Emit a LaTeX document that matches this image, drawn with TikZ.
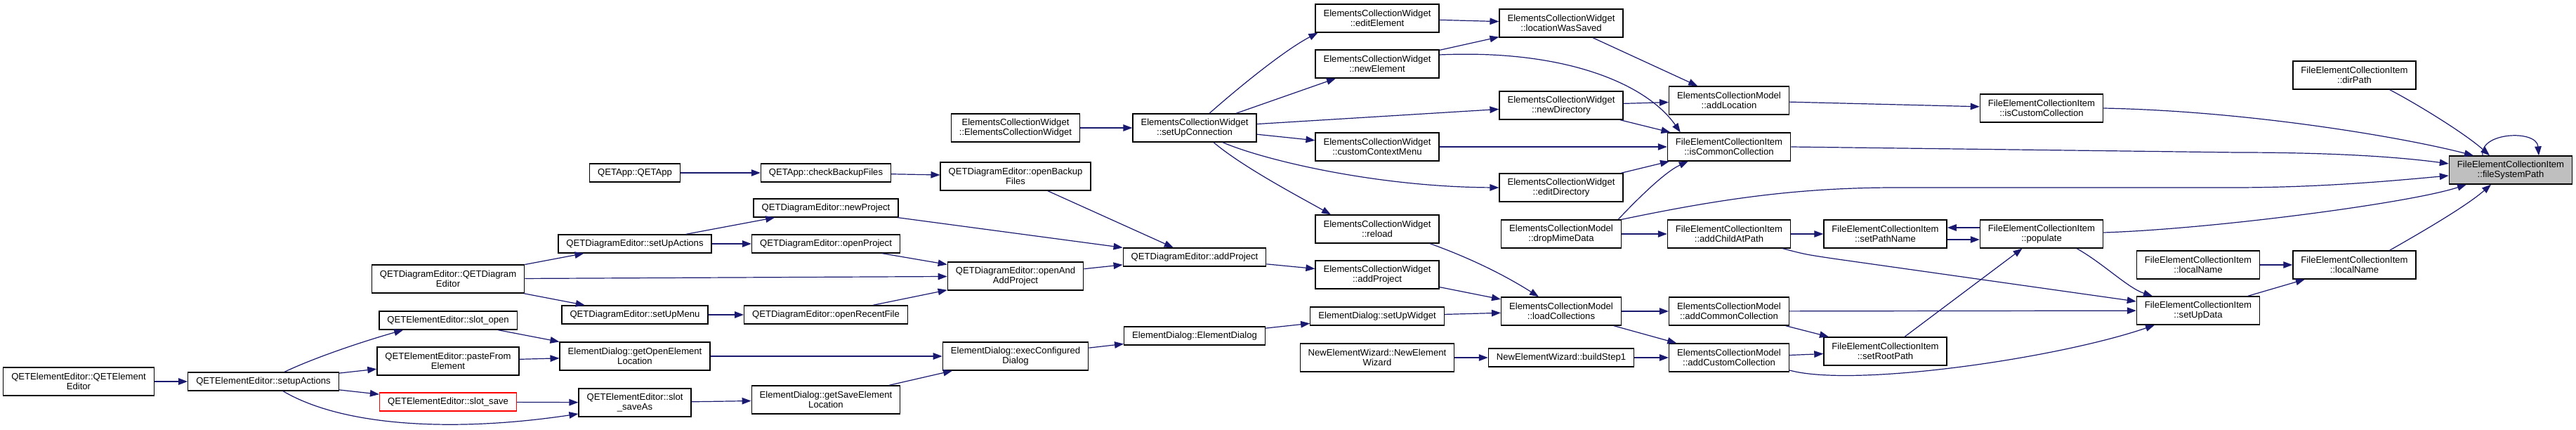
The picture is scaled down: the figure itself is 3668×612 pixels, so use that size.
\documentclass[tikz,border=0pt]{standalone}
\usepackage{fontspec}
\setmainfont{Liberation Sans}
\usepackage{tikz}
\usetikzlibrary{arrows.meta}
\definecolor{EdgeBlue}{HTML}{191970}
\definecolor{FocusGray}{HTML}{BFBFBF}
\definecolor{CutRed}{HTML}{FF0000}

\begin{document}
\begin{tikzpicture}[x=1pt,y=-1pt,
  fn/.style={draw=black,line width=1.3pt,fill=white,align=center,
    inner xsep=11.5pt,inner ysep=6.6pt,minimum height=26pt,
    font=\fontsize{13.1}{14.5}\selectfont},
  tall/.style={minimum height=40pt},
  call/.style={-{Triangle[length=13pt,width=9.5pt]},EdgeBlue,line width=1.2pt}]
  \useasboundingbox (0,0) rectangle (3668,612);

  % callers, one column per rank
  \node[fn,tall] (eeCtor) at (112,543) {QETElementEditor::QETElement\\Editor};
  \node[fn] (eeSetup) at (375,543) {QETElementEditor::setupActions};

  \node[fn,tall] (deCtor) at (638,397) {QETDiagramEditor::QETDiagram\\Editor};
  \node[fn] (eeOpen) at (638,456) {QETElementEditor::slot\_open};
  \node[fn,tall] (eePaste) at (638,514) {QETElementEditor::pasteFrom\\Element};
  \node[fn,draw=CutRed] (eeSave) at (638,572) {QETElementEditor::slot\_save};

  \node[fn] (qetApp) at (904,246) {QETApp::QETApp};
  \node[fn] (deSetUpActions) at (904,347) {QETDiagramEditor::setUpActions};
  \node[fn] (deSetUpMenu) at (904,448) {QETDiagramEditor::setUpMenu};
  \node[fn,tall] (edGetOpen) at (904,507) {ElementDialog::getOpenElement\\Location};
  \node[fn,tall] (eeSaveAs) at (904,573) {QETElementEditor::slot\\\_saveAs};

  \node[fn] (checkBackup) at (1176,246) {QETApp::checkBackupFiles};
  \node[fn] (deNewProject) at (1176,296) {QETDiagramEditor::newProject};
  \node[fn] (deOpenProject) at (1176,347) {QETDiagramEditor::openProject};
  \node[fn] (deOpenRecent) at (1176,448) {QETDiagramEditor::openRecentFile};
  \node[fn,tall] (edGetSave) at (1176,569) {ElementDialog::getSaveElement\\Location};

  \node[fn,tall] (ecwCtor) at (1446,182) {ElementsCollectionWidget\\::ElementsCollectionWidget};
  \node[fn,tall] (deOpenBackup) at (1446,251) {QETDiagramEditor::openBackup\\Files};
  \node[fn,tall] (deOpenAndAdd) at (1446,393) {QETDiagramEditor::openAnd\\AddProject};
  \node[fn,tall] (edExec) at (1446,507) {ElementDialog::execConfigured\\Dialog};

  \node[fn,tall] (ecwSetUp) at (1701,182) {ElementsCollectionWidget\\::setUpConnection};
  \node[fn] (deAddProject) at (1701,366) {QETDiagramEditor::addProject};
  \node[fn] (edCtor) at (1701,478) {ElementDialog::ElementDialog};

  \node[fn,tall] (ecwEditElement) at (1961,26) {ElementsCollectionWidget\\::editElement};
  \node[fn,tall] (ecwNewElement) at (1961,91) {ElementsCollectionWidget\\::newElement};
  \node[fn,tall] (ecwCustomMenu) at (1961,209) {ElementsCollectionWidget\\::customContextMenu};
  \node[fn,tall] (ecwReload) at (1961,326) {ElementsCollectionWidget\\::reload};
  \node[fn,tall] (ecwAddProject) at (1961,391) {ElementsCollectionWidget\\::addProject};
  \node[fn] (edSetUpWidget) at (1961,450) {ElementDialog::setUpWidget};
  \node[fn,tall] (newWizCtor) at (1961,509) {NewElementWizard::NewElement\\Wizard};

  \node[fn,tall] (ecwLocSaved) at (2223,33) {ElementsCollectionWidget\\::locationWasSaved};
  \node[fn,tall] (ecwNewDir) at (2223,150) {ElementsCollectionWidget\\::newDirectory};
  \node[fn,tall] (ecwEditDir) at (2223,267) {ElementsCollectionWidget\\::editDirectory};
  \node[fn,tall] (ecmDrop) at (2223,333) {ElementsCollectionModel\\::dropMimeData};
  \node[fn,tall] (ecmLoad) at (2223,443) {ElementsCollectionModel\\::loadCollections};
  \node[fn] (newWizStep) at (2223,509) {NewElementWizard::buildStep1};

  \node[fn,tall] (ecmAddLocation) at (2462,143) {ElementsCollectionModel\\::addLocation};
  \node[fn,tall] (feiIsCommon) at (2462,209) {FileElementCollectionItem\\::isCommonCollection};
  \node[fn,tall] (feiAddChild) at (2462,333) {FileElementCollectionItem\\::addChildAtPath};
  \node[fn,tall] (ecmAddCommon) at (2462,443) {ElementsCollectionModel\\::addCommonCollection};
  \node[fn,tall] (ecmAddCustom) at (2462,509) {ElementsCollectionModel\\::addCustomCollection};

  \node[fn,tall] (feiSetPathName) at (2684.5,333) {FileElementCollectionItem\\::setPathName};
  \node[fn,tall] (feiSetRootPath) at (2684.5,500) {FileElementCollectionItem\\::setRootPath};

  \node[fn,tall] (feiIsCustom) at (2907,154) {FileElementCollectionItem\\::isCustomCollection};
  \node[fn,tall] (feiPopulate) at (2907,333) {FileElementCollectionItem\\::populate};

  \node[fn,tall] (feiLocalName1) at (3130,377) {FileElementCollectionItem\\::localName};
  \node[fn,tall] (feiSetUpData) at (3130,442) {FileElementCollectionItem\\::setUpData};

  \node[fn,tall] (feiDirPath) at (3352.5,107) {FileElementCollectionItem\\::dirPath};
  \node[fn,tall] (feiLocalName2) at (3352.5,377) {FileElementCollectionItem\\::localName};

  \node[fn,tall,fill=FocusGray] (feiFileSysPath) at (3575,242) {FileElementCollectionItem\\::fileSystemPath};

  % calls
  \draw[call] (eeCtor) -- (eeSetup);
  \draw[call] ([xshift=30pt]eeSetup.north) .. controls (450,508) and (520,485) .. ([xshift=35pt]eeOpen.south west);
  \draw[call] (eeSetup) -- (eePaste);
  \draw[call] (eeSetup) -- (eeSave);
  \draw[call] ([xshift=28pt]eeSetup.south) .. controls (490,608) and (650,615) .. ([yshift=-16pt]eeSaveAs.west);
  \draw[call] (eeOpen) -- (edGetOpen);
  \draw[call] (eePaste) -- (edGetOpen);
  \draw[call] (eeSave) -- (eeSaveAs);
  \draw[call] (eeSaveAs) -- (edGetSave);
  \draw[call] (edGetOpen) -- (edExec);
  \draw[call] (edGetSave) -- (edExec);
  \draw[call] (edExec) -- (edCtor);
  \draw[call] (edCtor) -- (edSetUpWidget);
  \draw[call] (edSetUpWidget) -- (ecmLoad);

  \draw[call] (deCtor) -- (deSetUpActions);
  \draw[call] (deCtor) -- (deOpenAndAdd);
  \draw[call] (deCtor) -- (deSetUpMenu);
  \draw[call] (deSetUpActions) -- (deNewProject);
  \draw[call] (deSetUpActions) -- (deOpenProject);
  \draw[call] (deSetUpMenu) -- (deOpenRecent);
  \draw[call] (deOpenProject) -- (deOpenAndAdd);
  \draw[call] (deOpenRecent) -- (deOpenAndAdd);
  \draw[call] (deNewProject) -- (deAddProject);
  \draw[call] (deOpenAndAdd) -- (deAddProject);
  \draw[call] (deOpenBackup) -- (deAddProject);
  \draw[call] (qetApp) -- (checkBackup);
  \draw[call] (checkBackup) -- (deOpenBackup);
  \draw[call] (deAddProject) -- (ecwAddProject);
  \draw[call] (ecwAddProject) -- (ecmLoad);
  \draw[call] ([xshift=75pt]ecwReload.south) .. controls (2090,366) and (2140,390) .. ([xshift=-32pt]ecmLoad.north);

  \draw[call] (ecwCtor) -- (ecwSetUp);
  \draw[call] ([xshift=21pt]ecwSetUp.north) .. controls (1762,126) and (1828,72) .. ([xshift=4pt]ecwEditElement.south west);
  \draw[call] (ecwSetUp) -- (ecwNewElement);
  \draw[call] (ecwSetUp) -- (ecwNewDir);
  \draw[call] (ecwSetUp) -- (ecwCustomMenu);
  \draw[call] ([xshift=40pt]ecwSetUp.south) .. controls (1800,228) and (1960,266) .. (ecwEditDir.west);
  \draw[call] ([xshift=27pt]ecwSetUp.south) .. controls (1770,238) and (1850,280) .. ([xshift=-66pt]ecwReload.north);
  \draw[call] (ecwEditElement) -- (ecwLocSaved);
  \draw[call] (ecwNewElement) -- (ecwLocSaved);
  \draw[call] ([yshift=13pt]ecwNewElement.east) .. controls (2230,70) and (2345,120) .. ([xshift=19pt]feiIsCommon.north west);
  \draw[call] (ecwLocSaved) -- (ecmAddLocation);
  \draw[call] (ecwNewDir) -- (ecmAddLocation);
  \draw[call] (ecwNewDir) -- (feiIsCommon);
  \draw[call] (ecwCustomMenu) -- (feiIsCommon);
  \draw[call] (ecwEditDir) -- (feiIsCommon);
  \draw[call] ([xshift=-5pt]ecmDrop.north east) .. controls (2330,285) and (2370,245) .. ([xshift=30pt]feiIsCommon.south west);
  \draw[call] (ecmDrop) -- (feiAddChild);
  \draw[call] (ecmDrop.north east) .. controls (2450,283) and (2560,267) .. (2700,267) -- (3180,267)
    .. controls (3300,267) and (3400,258) .. ([yshift=-8pt]feiFileSysPath.west);

  \draw[call] (ecmAddLocation) -- (feiIsCustom);
  \draw[call] (feiIsCustom.east) .. controls (3200,158) and (3420,195) .. ([xshift=-53pt]feiFileSysPath.north);
  \draw[call] (feiIsCommon.east) -- (3185,217) .. controls (3330,217) and (3420,224) .. ([yshift=9pt]feiFileSysPath.west);
  \draw[call] (feiAddChild) -- (feiSetPathName);
  \draw[call] ([xshift=-12pt]feiAddChild.south east) .. controls (2570,362) .. (2610,368) -- ([yshift=13pt]feiSetUpData.west);
  \draw[call] ([yshift=-8pt]feiSetPathName.east) -- ([yshift=-8pt]feiPopulate.west);
  \draw[call] ([yshift=9pt]feiPopulate.west) -- ([yshift=9pt]feiSetPathName.east);
  \draw[call] ([yshift=2pt]feiPopulate.east) .. controls (3150,326) and (3432,289) .. ([xshift=-63pt]feiFileSysPath.south);
  \draw[call] ([xshift=50pt]feiPopulate.south) .. controls (2995,375) and (3030,410) .. ([xshift=-65pt]feiSetUpData.north);

  \draw[call] (ecmLoad) -- (ecmAddCommon);
  \draw[call] (ecmLoad) -- (ecmAddCustom);
  \draw[call] (newWizCtor) -- (newWizStep);
  \draw[call] (newWizStep) -- (ecmAddCustom);
  \draw[call] (ecmAddCommon) -- (feiSetUpData);
  \draw[call] (ecmAddCommon) -- (feiSetRootPath);
  \draw[call] (ecmAddCustom) -- (feiSetRootPath);
  \draw[call] ([yshift=-18pt]ecmAddCustom.east) .. controls (2640,552) and (2930,510) .. ([xshift=-62pt]feiSetUpData.south);
  \draw[call] (feiSetRootPath) -- (feiPopulate);

  \draw[call] ([xshift=50pt]feiDirPath.south) .. controls (3440,147) and (3510,190) .. ([xshift=-30pt]feiFileSysPath.north);
  \draw[call] ([xshift=-40pt]feiFileSysPath.north) .. controls (3530,188) and (3612,184) .. ([xshift=40pt]feiFileSysPath.north);
  \draw[call] (feiLocalName1) -- (feiLocalName2);
  \draw[call] (feiSetUpData) -- (feiLocalName2);
  \draw[call] ([xshift=50pt]feiLocalName2.north) .. controls (3440,335) and (3510,295) .. ([xshift=-28pt]feiFileSysPath.south);
\end{tikzpicture}
\end{document}
